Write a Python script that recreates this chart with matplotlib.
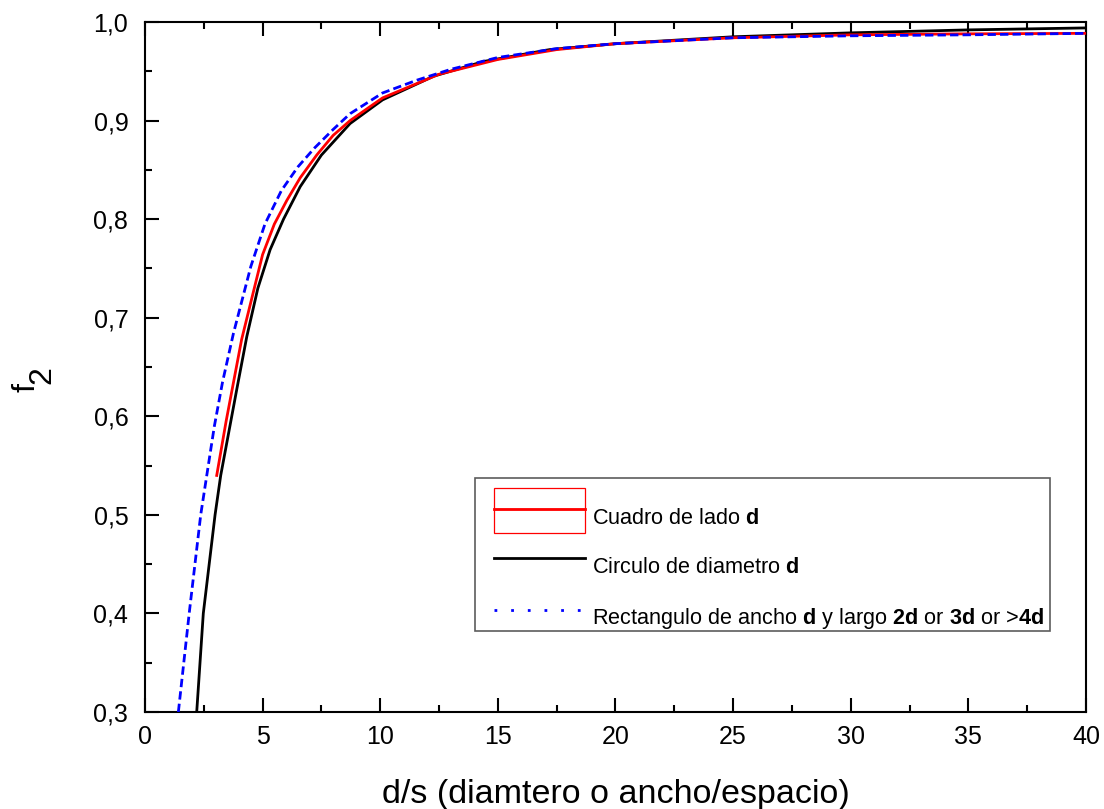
import matplotlib
matplotlib.use("Agg")
import matplotlib.pyplot as plt
from matplotlib.lines import Line2D
from matplotlib.patches import Rectangle
from matplotlib.legend_handler import HandlerBase

plt.rcParams['font.family'] = ['Liberation Sans', 'DejaVu Sans']
plt.rcParams['mathtext.fontset'] = 'custom'
plt.rcParams['mathtext.rm'] = 'Liberation Sans'
plt.rcParams['mathtext.bf'] = 'Liberation Sans:bold'

# Datos
x_circulo = [2.2, 2.48, 2.98, 3.22, 3.9, 4.33, 4.8, 5.32, 5.89, 6.6, 7.5, 8.72, 10.1,
             12.27, 14.4, 17.2, 20, 25, 30, 35, 40]
f2_circulo = [0.30, 0.40, 0.50, 0.54, 0.627, 0.681, 0.73, 0.769, 0.80, 0.833, 0.865,
              0.897, 0.921, 0.945, 0.960, 0.972, 0.978, 0.985, 0.989, 0.992, 0.994]

x_cuadro = [3.05, 3.45, 4.11, 5.0, 5.5, 6.03, 6.6, 7.3, 8.0, 8.72, 10.1, 12.5, 15,
            17.5, 20, 25, 30, 35, 40]
f2_cuadro = [0.540, 0.595, 0.678, 0.764, 0.795, 0.819, 0.842, 0.865, 0.885, 0.900,
             0.923, 0.947, 0.962, 0.972, 0.978, 0.984, 0.987, 0.988, 0.9885]

x_rect = [1.42, 1.88, 2.37, 2.64, 2.95, 3.3, 3.76, 4.5, 5.1, 5.8, 6.5, 7.2, 8.0, 8.72,
          10.1, 11.56, 13, 15, 17.5, 20, 25, 30, 35, 40]
f2_rect = [0.30, 0.40, 0.50, 0.542, 0.59, 0.635, 0.684, 0.752, 0.795, 0.829, 0.853,
           0.872, 0.891, 0.907, 0.928, 0.941, 0.952, 0.964, 0.973, 0.978, 0.984,
           0.986, 0.987, 0.9885]

x_ticks = [0, 5, 10, 15, 20, 25, 30, 35, 40]
y_ticks = [0.3, 0.4, 0.5, 0.6, 0.7, 0.8, 0.9, 1.0]
y_tick_labels = ['0,3', '0,4', '0,5', '0,6', '0,7', '0,8', '0,9', '1,0']

etiquetas = ['Cuadro de lado $\\mathbf{d}$',
             'Circulo de diametro $\\mathbf{d}$',
             'Rectangulo de ancho $\\mathbf{d}$ y largo $\\mathbf{2d}$ or $\\mathbf{3d}$ or >$\\mathbf{4d}$']


class OrigenHandler(HandlerBase):
    # linea un poco por encima del texto; el cuadro lleva dos rectangulos (como en Origin)
    def __init__(self, cuadros=False):
        super().__init__()
        self.cuadros = cuadros

    def create_artists(self, legend, orig_handle, xdescent, ydescent,
                       width, height, fontsize, trans):
        yc = height / 2 - ydescent + 0.45 * height
        x0 = -xdescent + 0.88 * fontsize
        w = width - 0.88 * fontsize
        arts = []
        if self.cuadros:
            arts.append(Rectangle((x0, yc), w, 1.38 * height, fill=False,
                                  edgecolor='red', linewidth=0.9, transform=trans))
            arts.append(Rectangle((x0, yc - 1.58 * height), w, 1.58 * height,
                                  fill=False, edgecolor='red', linewidth=0.9,
                                  transform=trans))
        ln = Line2D([x0, x0 + w], [yc, yc], color=orig_handle.get_color(),
                    linewidth=orig_handle.get_linewidth(),
                    linestyle=orig_handle.get_linestyle(), transform=trans)
        if orig_handle.get_linestyle() != '-':
            ln.set_dashes((1, 5))
        arts.append(ln)
        return arts


fig = plt.figure(figsize=(11.04, 8.09), dpi=100)
ax = fig.add_axes([0.1313, 0.1199, 0.8524, 0.8529])

ax.plot(x_cuadro, f2_cuadro, color='red', linewidth=2, zorder=3)
ax.plot(x_circulo, f2_circulo, color='black', linewidth=2, zorder=2)
ax.plot(x_rect, f2_rect, color='blue', linewidth=2, linestyle=(0, (3, 1.5)), zorder=4)

ax.set_xlim(0, 40)
ax.set_ylim(0.3, 1.0)
ax.set_xticks(x_ticks)
ax.set_xticks([2.5 + 5 * i for i in range(8)], minor=True)
ax.set_yticks(y_ticks)
ax.set_yticklabels(y_tick_labels)
ax.set_yticks([0.35 + 0.1 * i for i in range(7)], minor=True)

for s in ax.spines.values():
    s.set_linewidth(1.5)
ax.tick_params(which='both', direction='in', top=True, right=False, width=1.5,
               labelsize=18)
ax.tick_params(which='major', length=10)
ax.tick_params(which='minor', length=5)
ax.tick_params(axis='x', pad=9)
ax.tick_params(axis='y', pad=12)

ax.set_xlabel('d/s (diamtero o ancho/espacio)', fontsize=24.5, va='baseline')
ax.xaxis.set_label_coords(0.5, -0.132)
ax.text(-0.1169, 0.4696, 'f', fontsize=23, rotation=90, rotation_mode='anchor',
        transform=ax.transAxes, ha='center', va='baseline')
ax.text(-0.1010, 0.4884, '2', fontsize=23, rotation=90, rotation_mode='anchor',
        transform=ax.transAxes, ha='center', va='baseline')

h_cuadro = Line2D([], [], color='red', linewidth=2)
h_circulo = Line2D([], [], color='black', linewidth=2)
h_rect = Line2D([], [], color='blue', linewidth=2, linestyle=':')

leg = ax.legend([h_cuadro, h_circulo, h_rect], etiquetas,
                handler_map={h_cuadro: OrigenHandler(cuadros=True),
                             h_circulo: OrigenHandler(),
                             h_rect: OrigenHandler()},
                loc='upper left', bbox_to_anchor=(0.3507, 0.3385, 0.611, 0.0),
                mode='expand', fontsize=15.6, frameon=True, fancybox=False,
                edgecolor='#333333', borderpad=0.0, handlelength=5.1,
                handletextpad=0.28, labelspacing=1.3, borderaxespad=0,
                title=' ', title_fontsize=1)
leg.get_frame().set_linewidth(1.2)

fig.savefig('out.png', dpi=100)
